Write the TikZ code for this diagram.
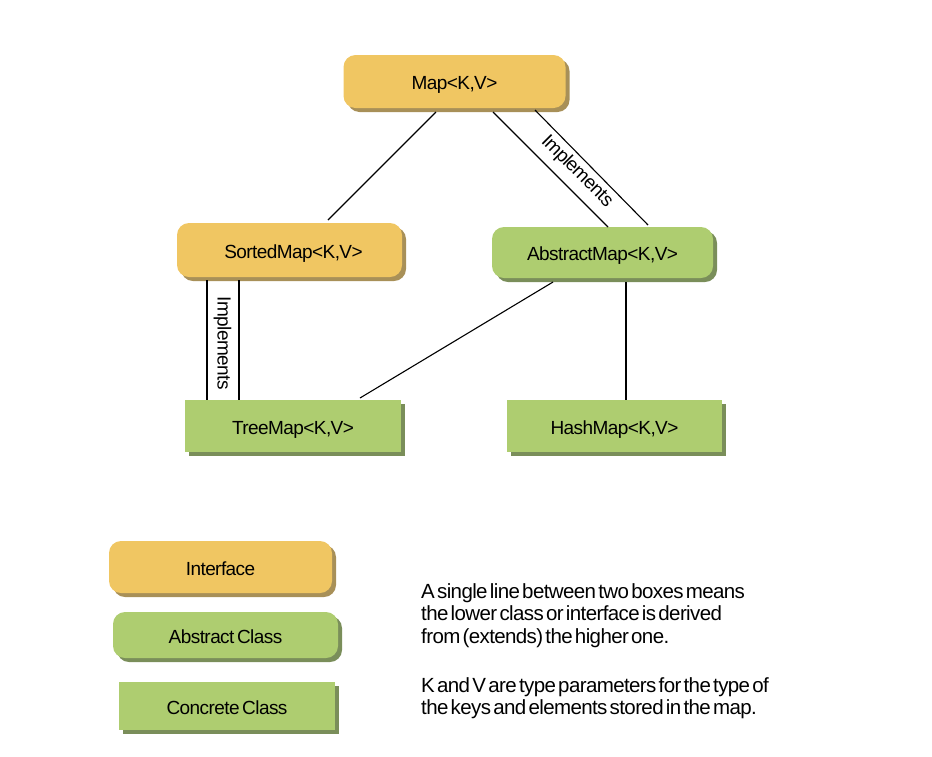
\documentclass[tikz,border=0pt]{standalone}
\usepackage{fontspec}
\setmainfont{Liberation Sans}[LetterSpace=-3,WordSpace=0.55]
\newfontfamily\notefont{Liberation Sans}[LetterSpace=-3,WordSpace=0.45]
\usetikzlibrary{calc,shadows}
\definecolor{ifill}{RGB}{240,198,98}
\definecolor{ishadow}{RGB}{168,144,88}
\definecolor{gfill}{RGB}{174,205,112}
\definecolor{gshadow}{RGB}{122,142,90}
\begin{document}
\begin{tikzpicture}[x=1pt,y=-1pt,
  font=\fontsize{19}{22.5}\selectfont,
  box/.style={minimum width=#1, inner sep=0pt, outer sep=0pt, text height=16.6pt, text depth=0pt},
  ibox/.style={box=#1, fill=ifill, rounded corners=12pt, minimum height=53pt,
     drop shadow={shadow xshift=4pt, shadow yshift=-4pt, fill=ishadow, opacity=1}},
  abox/.style={box=#1, fill=gfill, rounded corners=12pt, minimum height=51pt,
     drop shadow={shadow xshift=4pt, shadow yshift=-4pt, fill=gshadow, opacity=1}},
  cbox/.style={box=#1, fill=gfill, minimum height=52pt,
     drop shadow={shadow xshift=4pt, shadow yshift=-4pt, fill=gshadow, opacity=1}},
  conn/.style={line width=1.1pt, black},
  lbl/.style={inner sep=0pt, font=\fontsize{19}{22}\selectfont},
  note/.style={anchor=base west, inner sep=0pt, align=left,
     font=\notefont\fontsize{20.5}{22.5}\selectfont}
]
\useasboundingbox (0,0) rectangle (932,756);

\node[ibox=222pt] (map) at (454.5,81.5) {Map<K,V>};
\node[ibox=225pt, minimum height=54pt] (sorted) at (289.5,250) {\hspace*{8pt}SortedMap<K,V>};
\node[abox=221pt] (abstract) at (602.5,252.5) {AbstractMap<K,V>};
\node[cbox=216pt] (tree) at (293,426) {TreeMap<K,V>};
\node[cbox=215pt] (hash) at (614.5,426) {HashMap<K,V>};

\node[ibox=223pt, minimum height=52pt] (leginterface) at (220.5,567) {Interface};
\node[abox=225pt, minimum height=46pt] (legabstract) at (225.5,635) {Abstract Class};
\node[cbox=216pt, minimum height=48pt] (legconcrete) at (227,706) {Concrete Class};

% connectors
\draw[conn] ($(map.south)+(-18.5,4)$) -- ($(sorted.north)+(38.5,-3)$);
\draw[conn] ($(map.south)+(38.5,4)$) -- ($(abstract.north)+(5.5,0)$);
\draw[conn] ($(map.south)+(80.5,2)$) -- ($(abstract.north)+(45.5,-2)$);
\node[lbl, rotate=-45] (implA) at (577,171.5) {Implements};

\draw[conn] ($(sorted.south)+(-82.5,3)$) -- ($(tree.north)+(-86,0)$);
\draw[conn] ($(sorted.south)+(-50.5,3)$) -- ($(tree.north)+(-54,0)$);
\node[lbl, rotate=-90] (implB) at (222.5,343) {Implements};

\draw[conn] ($(abstract.south)+(-49.5,4)$) -- ($(tree.north)+(67,-2)$);
\draw[conn] ($(abstract.south)+(23.5,4)$) -- ($(hash.north)+(11.5,0)$);

% legend text (base anchor = baseline of the last line)
\node[note] (txt1) at (421,643)
  {A single line between two boxes means\\the lower class or interface is derived\\from (extends) the higher one.};
\node[note] (txt2) at (421,714.5)
  {K and V are type parameters for the type of\\the keys and elements stored in the map.};
\end{tikzpicture}
\end{document}
